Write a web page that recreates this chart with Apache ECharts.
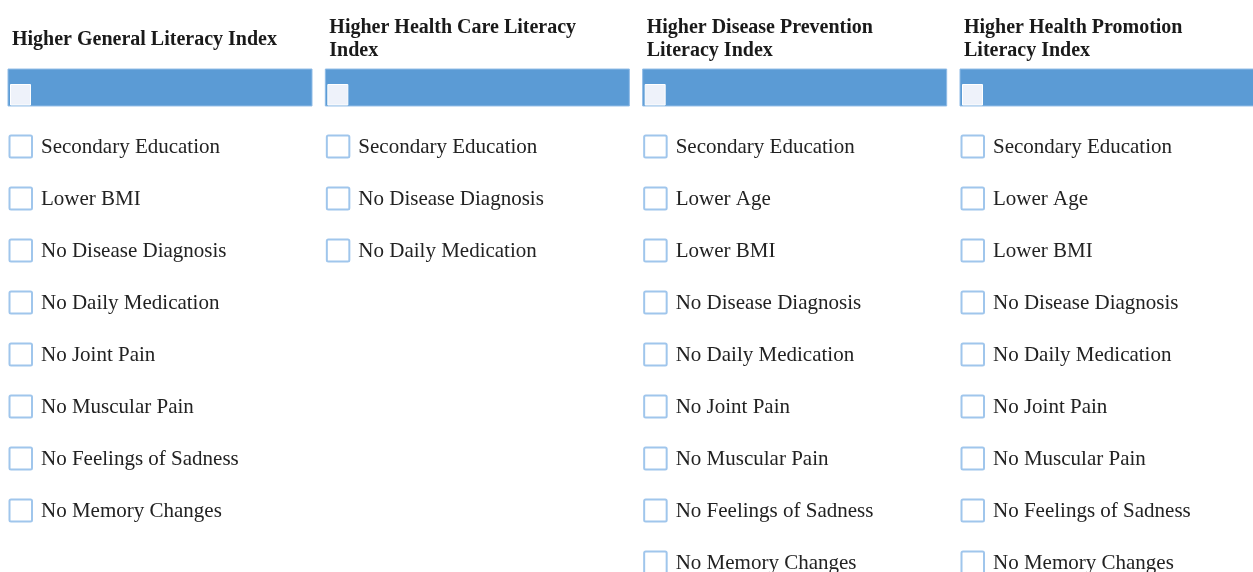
<!DOCTYPE html>
<html>
<head>
<meta charset="utf-8">
<script src="https://cdn.jsdelivr.net/npm/echarts@6/dist/echarts.min.js"></script>
<style>
html,body{margin:0;padding:0;background:#fff;}
#chart{width:1253px;height:572px;}
</style>
</head>
<body>
<div id="chart"></div>
<script>
// ---- data ----
const columnTitles = [
  "Higher General Literacy Index",
  "Higher Health Care Literacy\nIndex",
  "Higher Disease Prevention\nLiteracy Index",
  "Higher Health Promotion\nLiteracy Index"
];
const generalItems = ["Secondary Education","Lower BMI","No Disease Diagnosis","No Daily Medication","No Joint Pain","No Muscular Pain","No Feelings of Sadness","No Memory Changes"];
const healthCareItems = ["Secondary Education","No Disease Diagnosis","No Daily Medication"];
const diseasePreventionItems = ["Secondary Education","Lower Age","Lower BMI","No Disease Diagnosis","No Daily Medication","No Joint Pain","No Muscular Pain","No Feelings of Sadness","No Memory Changes"];
const healthPromotionItems = ["Secondary Education","Lower Age","Lower BMI","No Disease Diagnosis","No Daily Medication","No Joint Pain","No Muscular Pain","No Feelings of Sadness","No Memory Changes"];
const columnItems = [generalItems, healthCareItems, diseasePreventionItems, healthPromotionItems];

// ---- build series data ----
const itemData = [];
const itemLabels = [];
columnItems.forEach((list, c) => {
  list.forEach((name, r) => { itemData.push([c, r]); itemLabels.push(name); });
});
const headerData = columnTitles.map((t, c) => [c, -1.125]);
const titleData = columnTitles.map((t, c) => [c, -2.08]);

const FONT_ITEM = '21px "Liberation Serif"';
const FONT_TITLE = 'bold 20px "Liberation Serif"';

const chart = echarts.init(document.getElementById('chart'), null, {renderer: 'canvas'});
chart.setOption({
  animation: false,
  backgroundColor: '#ffffff',
  grid: {left: 8, right: 7.4, top: 42, bottom: 10},
  xAxis: {type: 'value', min: 0, max: 3.9, show: false},
  yAxis: {type: 'value', min: -2, max: 8, inverse: true, show: false},
  series: [
    {
      type: 'custom',
      clip: false,
      data: titleData,
      renderItem: function (params, api) {
        const p = api.coord([api.value(0), api.value(1)]);
        return {
          type: 'text',
          style: {
            text: columnTitles[params.dataIndex],
            x: p[0] + 4, y: p[1] + 1.5,
            verticalAlign: 'middle', align: 'left',
            font: FONT_TITLE, lineHeight: 23, fill: '#1a1a1a'
          }
        };
      }
    },
    {
      type: 'custom',
      clip: false,
      data: headerData,
      renderItem: function (params, api) {
        const p = api.coord([api.value(0), api.value(1)]);
        const s = api.size([0.958, 0.71]);
        return {
          type: 'group',
          children: [
            {type: 'rect', shape: {x: p[0], y: p[1] - s[1] / 2, width: s[0], height: s[1]},
             style: {fill: '#5b9bd5', stroke: '#8fbbe6', lineWidth: 1}},
            {type: 'rect', shape: {x: p[0] + 2.5, y: p[1] - 3, width: 20, height: 20.5},
             style: {fill: '#eef2fa', stroke: '#ffffff', lineWidth: 1}}
          ]
        };
      }
    },
    {
      type: 'custom',
      clip: false,
      data: itemData,
      renderItem: function (params, api) {
        const p = api.coord([api.value(0), api.value(1)]);
        return {
          type: 'group',
          children: [
            {type: 'rect', shape: {x: p[0] + 1.5, y: p[1] - 10.5, width: 22.5, height: 22, r: 1.5},
             style: {fill: '#ffffff', stroke: '#a0c6ec', lineWidth: 2}},
            {type: 'text', style: {text: itemLabels[params.dataIndex], x: p[0] + 33, y: p[1] + 1,
             verticalAlign: 'middle', align: 'left', font: FONT_ITEM, fill: '#222222'}}
          ]
        };
      }
    }
  ]
});
</script>
</body>
</html>
